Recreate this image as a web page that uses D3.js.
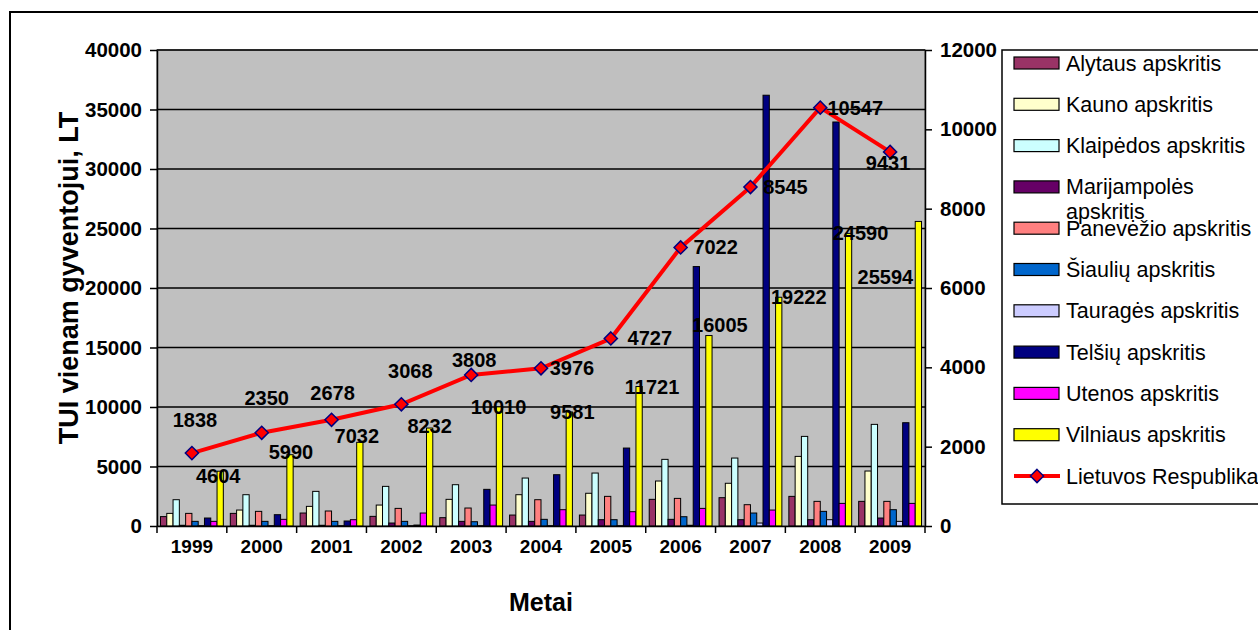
<!DOCTYPE html>
<html>
<head>
<meta charset="utf-8">
<script src="https://cdn.jsdelivr.net/npm/d3@7"></script>
<style>
body { margin: 0; background: #fff; }
text { font-family: Arial, "Liberation Sans", sans-serif; }
</style>
</head>
<body>
<svg id="chart" width="1258" height="630"></svg>
<script>
var years = ['1999','2000','2001','2002','2003','2004','2005','2006','2007','2008','2009'];
var seriesNames = ['Alytaus apskritis','Kauno apskritis','Klaipėdos apskritis','Marijampolės apskritis',
  'Panevėžio apskritis','Šiaulių apskritis','Tauragės apskritis','Telšių apskritis','Utenos apskritis','Vilniaus apskritis'];
var lineName = 'Lietuvos Respublika';

var alytaus      = [790,1060,1090,810,700,920,920,2240,2380,2490,2070];
var kauno        = [1060,1340,1650,1760,2240,2630,2750,3780,3590,5850,4620];
var klaipedos    = [2210,2630,2910,3330,3470,4030,4450,5600,5710,7530,8540];
var marijampoles = [60,60,60,250,390,390,530,560,530,530,670];
var panevezio    = [1060,1230,1260,1480,1510,2210,2490,2320,1790,2070,2070];
var siauliu      = [390,390,390,390,360,560,530,780,1090,1230,1370];
var taurages     = [30,30,30,30,30,30,30,60,250,530,390];
var telsiu       = [670,950,420,80,3080,4310,6550,21800,36200,33950,8680];
var utenos       = [390,560,530,1090,1760,1370,1200,1480,1340,1900,1900];
var vilniaus     = [4604,5990,7032,8232,10010,9581,11721,16005,19222,24590,25594];
var lietuva      = [1838,2350,2678,3068,3808,3976,4727,7022,8545,10547,9431];

var leftTicks = [0,5000,10000,15000,20000,25000,30000,35000,40000];
var rightTicks = [0,2000,4000,6000,8000,10000,12000];

var series = [alytaus,kauno,klaipedos,marijampoles,panevezio,siauliu,taurages,telsiu,utenos,vilniaus];
var colors = ['#993366','#FFFFCC','#CCFFFF','#660066','#FF8080','#0066CC','#CCCCFF','#000080','#FF00FF','#FFFF00'];

// hand placed label nudges (like in the original workbook)
var vilLabelOff = [[-2,5],[1,-3],[-3,-6],[0,-2],[-1,0],[3,0],[13,0],[11,-11],[20,0],[12,0],[-33,56]];
var lineLabelOff = [[3,-33],[5,-35],[1,-27],[9,-33],[3,-15],[31,0],[39,0],[35,0],[35,0],[35,0],[-2,11]];

var svg = d3.select('#chart');
var pLeft = 157, pRight = 925, pTop = 50, pBottom = 526;

// outer frame
svg.append('path').attr('d','M10,630 L10,12 L1258,12').attr('fill','none').attr('stroke','#000').attr('stroke-width',2);

var x0 = d3.scaleBand().domain(years).range([pLeft,pRight]).paddingInner(0.1).paddingOuter(0.05);
var x1 = d3.scaleBand().domain(d3.range(series.length)).range([0,x0.bandwidth()]);
var xc = d3.scaleBand().domain(years).range([pLeft,pRight]);
var y = d3.scaleLinear().domain([0,40000]).range([pBottom,pTop]);
var y2 = d3.scaleLinear().domain([0,12000]).range([pBottom,pTop]);

var g = svg.append('g');
g.append('rect').attr('x',pLeft).attr('y',pTop).attr('width',pRight-pLeft).attr('height',pBottom-pTop)
  .attr('fill','#C0C0C0').attr('stroke','#808080').attr('stroke-width',1.5);

g.selectAll('line.grid').data(leftTicks.slice(1)).enter().append('line')
  .attr('class','grid')
  .attr('x1',pLeft).attr('x2',pRight)
  .attr('y1',function(d){ return y(d); }).attr('y2',function(d){ return y(d); })
  .attr('stroke','#000').attr('stroke-width',1.5);

// bars
series.forEach(function(vals,si) {
  g.selectAll('rect.s'+si).data(vals).enter().append('rect')
    .attr('class','s'+si)
    .attr('x',function(d,i){ return x0(years[i]) + x1(si); })
    .attr('y',function(d){ return y(d); })
    .attr('width',x1.bandwidth())
    .attr('height',function(d){ return pBottom - y(d); })
    .attr('fill',colors[si])
    .attr('stroke','#000').attr('stroke-width',1);
});

// axes
var axL = svg.append('g').attr('transform','translate('+pLeft+',0)')
  .call(d3.axisLeft(y).tickValues(leftTicks).tickSize(7).tickSizeOuter(0).tickPadding(8).tickFormat(d3.format('d')));
var axR = svg.append('g').attr('transform','translate('+pRight+',0)')
  .call(d3.axisRight(y2).tickValues(rightTicks).tickSize(7).tickSizeOuter(0).tickPadding(8).tickFormat(d3.format('d')));
var axB = svg.append('g').attr('transform','translate(0,'+pBottom+')')
  .call(d3.axisBottom(xc).tickSize(0).tickPadding(14));
axB.selectAll('line').remove();
axB.select('.domain').attr('stroke','#000').attr('stroke-width',1.5);
axB.selectAll('line.cat').data(years.concat(['end'])).enter().append('line')
  .attr('class','cat')
  .attr('x1',function(d,i){ return pLeft + i*xc.step(); })
  .attr('x2',function(d,i){ return pLeft + i*xc.step(); })
  .attr('y1',0).attr('y2',7).attr('stroke','#000').attr('stroke-width',1.5);
[axL,axR].forEach(function(a){
  a.selectAll('path.domain').attr('stroke','#000').attr('stroke-width',1.5);
  a.selectAll('line').attr('stroke','#000').attr('stroke-width',1.5);
  a.selectAll('text').attr('font-size',20.5).attr('font-weight','bold').attr('fill','#000');
});
axB.selectAll('text').attr('font-size',19).attr('font-weight','bold').attr('fill','#000');

// line
var lineGen = d3.line()
  .x(function(d,i){ return xc(years[i]) + xc.bandwidth()/2; })
  .y(function(d){ return y2(d); });
svg.append('path').datum(lietuva).attr('d',lineGen)
  .attr('fill','none').attr('stroke','#FF0000').attr('stroke-width',4);
var diamond = d3.symbol().type(d3.symbolDiamond2).size(110);
svg.selectAll('path.pt').data(lietuva).enter().append('path')
  .attr('class','pt')
  .attr('d',diamond)
  .attr('transform',function(d,i){ return 'translate('+(xc(years[i])+xc.bandwidth()/2)+','+y2(d)+')'; })
  .attr('fill','#FF0000').attr('stroke','#000080').attr('stroke-width',1.5);

// data labels
svg.selectAll('text.vl').data(vilniaus).enter().append('text')
  .attr('class','vl')
  .attr('x',function(d,i){ return x0(years[i]) + x1(9) + x1.bandwidth()/2 + vilLabelOff[i][0]; })
  .attr('y',function(d,i){ return y(d) + vilLabelOff[i][1]; })
  .attr('dy','0.35em').attr('text-anchor','middle')
  .attr('font-size',20).attr('font-weight','bold').text(function(d){ return d; });
svg.selectAll('text.ll').data(lietuva).enter().append('text')
  .attr('class','ll')
  .attr('x',function(d,i){ return xc(years[i]) + xc.bandwidth()/2 + lineLabelOff[i][0]; })
  .attr('y',function(d,i){ return y2(d) + lineLabelOff[i][1]; })
  .attr('dy','0.35em').attr('text-anchor','middle')
  .attr('font-size',20).attr('font-weight','bold').text(function(d){ return d; });

// axis titles
svg.append('text').attr('x',541).attr('y',611).attr('text-anchor','middle')
  .attr('font-size',25).attr('font-weight','bold').text('Metai');
svg.append('text').attr('transform','translate(78,278) rotate(-90)').attr('text-anchor','middle')
  .attr('font-size',27).attr('font-weight','bold').text('TUI vienam gyventojui, LT');

// legend
var lg = svg.append('g');
lg.append('rect').attr('x',1002).attr('y',50).attr('width',270).attr('height',454)
  .attr('fill','#fff').attr('stroke','#000').attr('stroke-width',1.5);
var rowY = function(k){ return 63 + k*41.3; };
seriesNames.forEach(function(name,k) {
  lg.append('rect').attr('x',1014).attr('y',rowY(k)-6).attr('width',45).attr('height',12)
    .attr('fill',colors[k]).attr('stroke','#000').attr('stroke-width',1.2);
  var t = lg.append('text').attr('x',1066).attr('y',rowY(k)).attr('dy','0.35em').attr('font-size',21.5);
  if (k === 3) {
    t.append('tspan').text('Marijampolės');
    t.append('tspan').attr('x',1066).attr('dy','1.15em').text('apskritis');
  } else {
    t.text(name);
  }
});
var ly = rowY(10);
lg.append('line').attr('x1',1014).attr('x2',1060).attr('y1',ly).attr('y2',ly).attr('stroke','#FF0000').attr('stroke-width',4);
lg.append('path').attr('d',diamond).attr('transform','translate(1037,'+ly+')')
  .attr('fill','#FF0000').attr('stroke','#000080').attr('stroke-width',1.5);
lg.append('text').attr('x',1066).attr('y',ly).attr('dy','0.35em').attr('font-size',21.5).text(lineName);
</script>
</body>
</html>
